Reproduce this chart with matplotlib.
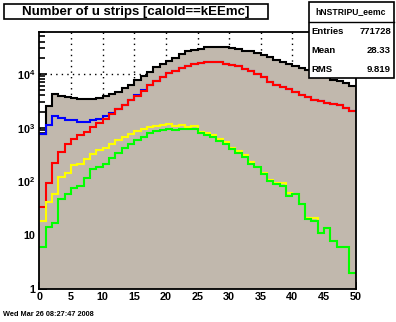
import numpy as np
import matplotlib
matplotlib.use('Agg')
import matplotlib.pyplot as plt
from matplotlib.patches import Rectangle
from matplotlib.ticker import FixedLocator, FixedFormatter, LogLocator, NullFormatter

plt.rcParams['font.family'] = ['Liberation Sans', 'DejaVu Sans']
plt.rcParams['font.weight'] = 'bold'
plt.rcParams['mathtext.fontset'] = 'custom'
plt.rcParams['mathtext.rm'] = 'Liberation Sans:bold'
plt.rcParams['mathtext.bf'] = 'Liberation Sans:bold'
plt.rcParams['mathtext.default'] = 'rm'

# bin edges 0..50, one bin per strip count
edges = np.arange(0, 51)

# total (gray filled, black outline)
total = [770, 2506, 4190, 3900, 3785, 3625, 3470, 3380, 3380, 3530,
         3850, 4190, 4620, 5420, 6170, 7730, 9060, 10890, 13330, 15560,
         17680, 20100, 23270, 26440, 27600, 29570, 31400, 31400, 31400, 31400,
         30470, 28800, 27120, 26440, 24580, 22290, 20460, 18460, 16500, 15560,
         14270, 12940, 11870, 10660, 9580, 8610, 7840, 7410, 6800, 5900]

blue = [765, 1140, 1634, 1500, 1394, 1394, 1262, 1262, 1394, 1474,
        1675, 1858, 2260, 2685, 3280, 4100, 5000, 6300, 7450, 8850,
        10600, 11400, 13100, 14200, 15350, 16030, 16720, 16720, 16720, 15350,
        14700, 14090, 12220, 11220, 10140, 8790, 7100, 6320, 5730, 5190,
        4620, 4060, 3680, 3330, 3100, 2920, 2770, 2620, 2330, 2080]

red = [33, 94, 218, 358, 492, 618, 743, 845, 1033, 1210,
       1474, 1778, 2204, 2649, 3242, 3945, 4830, 6170, 7310, 8690,
       10440, 11220, 12760, 14090, 15350, 16030, 16720, 16720, 16720, 15350,
       14700, 14090, 12220, 11220, 10140, 8790, 7100, 6320, 5730, 5190,
       4620, 4060, 3680, 3330, 3100, 2920, 2770, 2620, 2330, 2080]

yellow = [18.4, 41, 58.5, 120, 142, 203, 212, 259, 321, 380,
          420, 499, 592, 664, 765, 859, 936, 1020, 1078, 1125,
          1159, 1064, 1111, 1020, 1064, 845, 788, 724, 610, 536,
          415, 365, 307, 228, 188, 142, 105, 93, 93, 60,
          58, 38.6, 20.7, 20.7, 10.9, 13.5, 7.7, 6.0, 6.0, 1.96]

green = [6.0, 14.4, 16.7, 46.6, 58.5, 74.7, 81.4, 115, 169, 186,
         209, 270, 335, 415, 499, 592, 673, 788, 859, 897,
         936, 897, 936, 936, 936, 788, 733, 664, 560, 492,
         397, 335, 282, 212, 184, 136, 102, 88.7, 81.4, 53,
         57.8, 37.7, 20, 18.4, 10.9, 13.5, 7.7, 6.0, 6.0, 1.96]

title = 'Number of u strips [caloId==kEEmc]'
stat_name = 'hNSTRIPU_eemc'
stat_rows = [('Entries', '771728'), ('Mean', '28.33'), ('RMS', '9.819')]
date_text = 'Wed Mar 26 08:27:47 2008'

W, H = 396, 322
fig = plt.figure(figsize=(W / 100, H / 100), dpi=100)
fig.patch.set_facecolor('white')

def fx(px):
    return px / W

def fy(py):
    return 1 - py / H

ax = fig.add_axes([fx(39.3), fy(289), fx(355.7) - fx(39.3), fy(32) - fy(289)])
ax.set_yscale('log')
ax.set_xlim(0, 50)
ax.set_ylim(1, 10 ** 4.781)

fill_col = '#c1b8ad'
ax.stairs(total, edges, fill=True, color=fill_col, baseline=0.5, zorder=2)
ax.stairs(total, edges, color='black', lw=1.5, baseline=None, zorder=3)
ax.stairs(blue, edges, color='#0000ff', lw=1.5, baseline=None, zorder=4)
ax.stairs(red, edges, color='#ff0000', lw=1.5, baseline=None, zorder=5)
ax.stairs(yellow, edges, color='#ffff00', lw=1.5, baseline=None, zorder=6)
ax.stairs(green, edges, color='#00ff00', lw=1.5, baseline=None, zorder=7)

# grid behind the fill
ax.set_axisbelow(True)
for xv in range(5, 50, 5):
    ax.axvline(xv, color='black', lw=1.0, ls=(0, (1, 3)), zorder=1)
for yv in [10, 100, 1000, 10000]:
    ax.axhline(yv, color='black', lw=1.0, ls=(0, (1, 3)), zorder=1)

ax.xaxis.set_major_locator(FixedLocator(range(0, 51, 5)))
ax.xaxis.set_minor_locator(FixedLocator(range(0, 51)))
ax.yaxis.set_major_locator(FixedLocator([1, 10, 100, 1000, 10000]))
ax.yaxis.set_major_formatter(FixedFormatter(['1', '10', r'$10^{2}$', r'$10^{3}$', r'$10^{4}$']))
ax.yaxis.set_minor_locator(LogLocator(base=10, subs=np.arange(2, 10)))
ax.yaxis.set_minor_formatter(NullFormatter())

ax.tick_params(axis='both', which='both', direction='in', width=1.2, labelsize=7.8,
               top=False, right=False)
ax.tick_params(axis='x', which='major', length=5.2, pad=2)
ax.tick_params(axis='x', which='minor', length=3)
ax.tick_params(axis='y', which='major', length=6, pad=3)
ax.tick_params(axis='y', which='minor', length=4)
for lab in ax.get_xticklabels() + ax.get_yticklabels():
    lab.set_fontweight('bold')
for sp in ax.spines.values():
    sp.set_linewidth(1.3)
    sp.set_zorder(10)

# title box
fig.patches.append(Rectangle((fx(3.5), fy(19)), fx(268.5) - fx(3.5), fy(3.5) - fy(19),
                             transform=fig.transFigure, facecolor='white',
                             edgecolor='black', lw=1.2))
fig.text(fx(136), fy(11.5), title, ha='center', va='center', fontsize=9.5, fontweight='bold')

# stats box
fig.patches.append(Rectangle((fx(308.5), fy(77.5)), fx(393.5) - fx(308.5), fy(2) - fy(77.5),
                             transform=fig.transFigure, facecolor='white',
                             edgecolor='black', lw=1.2, zorder=20))
fig.lines.append(plt.Line2D([fx(308.5), fx(393.5)], [fy(22), fy(22)],
                            transform=fig.transFigure, color='black', lw=1.0, zorder=21))
fig.text(fx(351), fy(12), stat_name, ha='center', va='center', fontsize=6.2,
         fontweight='bold', zorder=22)
for i, (k, v) in enumerate(stat_rows):
    yy = fy(31 + 19.5 * i)
    fig.text(fx(311), yy, k, ha='left', va='center', fontsize=6.8, fontweight='bold', zorder=22)
    fig.text(fx(391), yy, v, ha='right', va='center', fontsize=6.8, fontweight='bold', zorder=22)

fig.text(fx(3), fy(314), date_text, ha='left', va='center', fontsize=5.3, fontweight='bold')

fig.savefig('out.png', dpi=100)
